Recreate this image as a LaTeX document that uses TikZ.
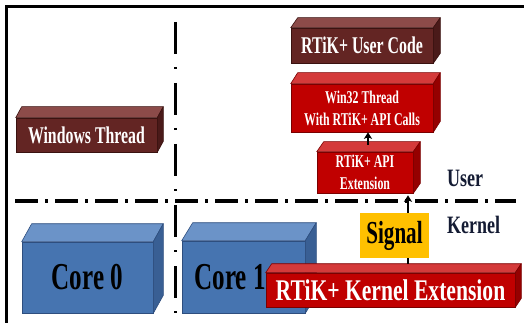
\documentclass[tikz,border=0pt]{standalone}
\usepackage{fontspec}
\setmainfont{Liberation Serif}
\newfontfamily\narrowfont[FakeStretch=0.66]{Liberation Serif}
\newfontfamily\wideishfont[FakeStretch=0.72]{Liberation Serif}
\usetikzlibrary{arrows.meta,calc}

\definecolor{brnF}{HTML}{632523}
\definecolor{brnT}{HTML}{8C4B49}
\definecolor{brnS}{HTML}{4A1A19}
\definecolor{brnE}{HTML}{3A1210}
\definecolor{redF}{HTML}{C00000}
\definecolor{redT}{HTML}{D43A3A}
\definecolor{redS}{HTML}{950000}
\definecolor{redE}{HTML}{7A0000}
\definecolor{bluF}{HTML}{4674B0}
\definecolor{bluT}{HTML}{6B93C8}
\definecolor{bluS}{HTML}{395F94}
\definecolor{bluE}{HTML}{2E4E7E}
\definecolor{sigY}{HTML}{FFC000}
\definecolor{lblC}{HTML}{141B33}

% top and side faces of a box whose front face is node #1
\newcommand\boxfaces[6]{%
  \filldraw[fill=#4,draw=#6,line width=0.6pt,line join=round]
    (#1.north west) -- ++(#2,#3) -- ($(#1.north east)+(#2,#3)$) -- (#1.north east) -- cycle;
  \filldraw[fill=#5,draw=#6,line width=0.6pt,line join=round]
    (#1.north east) -- ++(#2,#3) -- ($(#1.south east)+(#2,#3)$) -- (#1.south east) -- cycle;
}

\tikzset{
  face/.style={draw, line width=0.6pt, inner sep=0pt, align=center, font=\narrowfont\bfseries},
  brownface/.style={face, fill=brnF, draw=brnE, text=white},
  redface/.style={face, fill=redF, draw=redE, text=white},
  blueface/.style={face, fill=bluF, draw=bluE, text=black},
  arr/.style={line width=1.6pt, -{Stealth[length=6.5pt,width=8pt,inset=1.5pt]}},
  frameline/.style={line width=3pt},
  vsplit/.style={line width=3pt, dash pattern=on 32pt off 13pt on 2pt off 14pt},
  hsplit/.style={line width=4pt, dash pattern=on 23pt off 7pt on 3pt off 7pt},
  modelabel/.style={text=lblC, font=\wideishfont\bfseries\fontsize{25}{25}\selectfont, anchor=west, inner sep=0pt}
}

\begin{document}
\begin{tikzpicture}[x=1pt,y=-1pt]
  \useasboundingbox (0,0) rectangle (524,323);

  % frame edges
  \draw[frameline] (5,7) -- (524,7);
  \draw[frameline] (6,5.5) -- (6,323);

  % user / kernel and core separators
  \draw[vsplit] (175,22) -- (175,318);
  \draw[hsplit] (15,201) -- (516,201);

  % cores
  \node[blueface, minimum width=131pt, minimum height=71pt,
        font=\narrowfont\bfseries\fontsize{38}{38}\selectfont] (core0) at (87.5,277.5) {Core 0};
  \boxfaces{core0}{10}{-18}{bluT}{bluS}{bluE}
  \node[blueface, minimum width=123pt, minimum height=72pt] (core1) at (243.5,277) {};
  \boxfaces{core1}{11}{-18}{bluT}{bluS}{bluE}
  \node[font=\narrowfont\bfseries\fontsize{38}{38}\selectfont, inner sep=0pt] (core1lbl) at (230,277.5) {Core 1};

  % windows thread
  \node[brownface, minimum width=141pt, minimum height=34pt,
        font=\narrowfont\bfseries\fontsize{24}{24}\selectfont] (wt) at (86.5,135) {Windows Thread};
  \boxfaces{wt}{6}{-11}{brnT}{brnS}{brnE}

  % user code
  \node[brownface, minimum width=142pt, minimum height=35pt,
        font=\narrowfont\bfseries\fontsize{24}{24}\selectfont] (uc) at (362,45.5) {RTiK+ User Code};
  \boxfaces{uc}{7}{-10}{brnT}{brnS}{brnE}

  % win32 thread
  \node[redface, minimum width=142pt, minimum height=48pt,
        font=\narrowfont\bfseries\fontsize{18}{22}\selectfont] (w32) at (362,108) {Win32 Thread\\With RTiK+ API Calls};
  \boxfaces{w32}{7}{-11}{redT}{redS}{redE}

  % api extension
  \node[redface, minimum width=96pt, minimum height=41pt,
        font=\narrowfont\bfseries\fontsize{18}{22}\selectfont] (api) at (365,172.5) {RTiK+ API\\Extension};
  \boxfaces{api}{7}{-10}{redT}{redS}{redE}

  % kernel extension
  \node[redface, minimum width=249pt, minimum height=34pt,
        font=\wideishfont\bfseries\fontsize{30}{30}\selectfont] (kext) at (390.5,290) {RTiK+ Kernel Extension};
  \boxfaces{kext}{6}{-9}{redT}{redS}{redE}

  % connectors leave from the back edge of each top face
  \coordinate (sigx) at (408,0);
  \coordinate (apix) at (368,0);
  \draw[arr] ($(kext.north -| sigx)+(0,-9)$) -- ($(api.south -| sigx)+(0,2)$);
  \draw[arr] ($(api.north -| apix)+(0,-7)$) -- (w32.south -| apix);

  % signal
  \node[fill=sigY, minimum width=69pt, minimum height=45pt, inner sep=0pt,
        font=\narrowfont\bfseries\fontsize{32}{32}\selectfont] (sig) at (394.5,235.5) {Signal};

  % mode labels
  \node[modelabel] (user) at (447,178) {User};
  \node[modelabel] (kernel) at (447,225) {Kernel};
\end{tikzpicture}
\end{document}
